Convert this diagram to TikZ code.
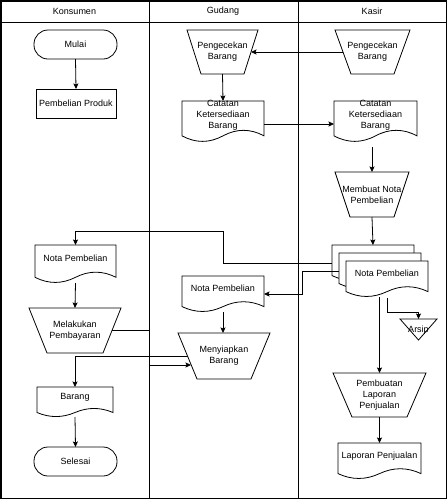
\documentclass[tikz,border=0pt]{standalone}
\usepackage{fontspec}
\setmainfont{Liberation Sans}
\usetikzlibrary{arrows.meta,calc}

\tikzset{
 line/.style={draw=black, line width=0.8pt},
 arr/.style={line, -{Stealth[length=5.5pt,width=5pt,inset=1pt]}},
 frame/.style={inner sep=0pt, outer sep=0pt, draw=none},
 txt/.style={font=\fontsize{9}{11}\selectfont, align=center, inner sep=0pt},
 lane/.style={draw=black, line width=0.8pt},
}

% name, x, y, w, h, indent, text
\newcommand\trapz[7]{%
 \node[frame, minimum width=#4pt, minimum height=#5pt, anchor=north west] (#1) at (#2,#3) {};
 \draw[line, fill=white] (#1.north west) -- (#1.north east) -- ([xshift=-#6pt]#1.south east) -- ([xshift=#6pt]#1.south west) -- cycle;
 \node[txt] (#1-t) at (#1.center) {#7};
}
% name, x, y, w, h, text, text y
\newcommand\docz[7]{%
 \node[frame, minimum width=#4pt, minimum height=#5pt, anchor=north west] (#1) at (#2,#3) {};
 \draw[line, fill=white] (#2,#3) -- ({#2+#4},#3) -- ({#2+#4},{#3+0.85*#5})
   .. controls ({#2+0.8333*#4},{#3+0.67*#5}) and ({#2+0.6667*#4},{#3+0.67*#5}) .. ({#2+0.5*#4},{#3+0.85*#5})
   .. controls ({#2+0.3333*#4},{#3+1.03*#5}) and ({#2+0.1667*#4},{#3+1.03*#5}) .. (#2,{#3+0.85*#5}) -- cycle;
 \node[txt] (#1-t) at ({#2+#4/2},#7) {#6};
}
% name, x, y, w, h, text
\newcommand\stad[6]{%
 \node[frame, minimum width=#4pt, minimum height=#5pt, anchor=north west] (#1) at (#2,#3) {};
 \draw[line, rounded corners=14pt] (#1.north west) rectangle (#1.south east);
 \node[txt] (#1-t) at (#1.center) {#6};
}
% name, x, y, w, h, text
\newcommand\boxz[6]{%
 \node[frame, minimum width=#4pt, minimum height=#5pt, anchor=north west] (#1) at (#2,#3) {};
 \draw[line] (#1.north west) rectangle (#1.south east);
 \node[txt] (#1-t) at (#1.center) {#6};
}

\begin{document}
\begin{tikzpicture}[x=1pt,y=-1pt]
\useasboundingbox (0,0) rectangle (447,499);
\draw[line width=1.5pt] (0.75,0.75) rectangle (446.25,498.25);
\draw[lane] (0.75,22) -- (446.25,22);
\draw[lane] (149,0.75) -- (149,498.25);
\draw[lane] (298,0.75) -- (298,498.25);
\node[txt] (hK) at (74.5,11) {Konsumen};
\node[txt] (hG) at (223,11) {Gudang};
\node[txt] (hS) at (372,11) {Kasir};

% Konsumen
\stad{mulai}{34}{30}{83}{29}{Mulai}
\boxz{produk}{36}{89}{80}{29}{Pembelian Produk}
\docz{notaK}{35}{245}{81}{38}{Nota Pembelian}{258}
\trapz{bayar}{29}{308}{92}{45}{18}{Melakukan\\Pembayaran}
\docz{barang}{37}{387}{76}{30}{Barang}{397}
\stad{selesai}{34}{447}{83}{29}{Selesai}

% Gudang
\trapz{cekG}{187}{30}{71}{44}{14}{Pengecekan\\Barang}
\docz{catG}{182}{101}{82}{41}{Catatan\\Ketersediaan\\Barang}{115}
\docz{notaG}{182}{276}{82}{36}{Nota Pembelian}{288}
\trapz{siap}{178}{333}{92}{46}{19}{Menyiapkan\\Barang}

% Kasir
\trapz{cekK}{335}{30}{75}{44}{16}{Pengecekan\\Barang}
\docz{catK}{334}{101}{83}{41}{Catatan\\Ketersediaan\\Barang}{115}
\trapz{buat}{335}{172}{74}{45}{15}{Membuat Nota\\Pembelian}
\docz{m1}{332}{245}{82}{36}{}{258}
\docz{m2}{339}{253}{82}{36}{}{266}
\docz{m3}{346}{261}{82}{36}{Nota Pembelian}{273}
\node[frame, minimum width=37pt, minimum height=21pt, anchor=north west] (arsip) at (400,319) {};
\draw[line] (arsip.north west) -- (arsip.north east) -- (arsip.south) -- cycle;
\node[txt] (arsip-t) at (418.5,330) {Arsip};
\trapz{lap}{333}{373}{93}{44}{19}{Pembuatan\\Laporan\\Penjualan}
\docz{laporan}{338}{443}{83}{36}{Laporan Penjualan}{456}

% connectors
\draw[arr] (mulai.south) -- (produk.north);
\draw[arr] ([xshift=8pt]cekK.west) -- ([xshift=-7pt]cekG.east);
\draw[arr] (cekG.south) -- (catG.north);
\draw[arr] ([yshift=-2.5pt]catG.east) -- ([yshift=-2.5pt]catK.west);
\draw[arr] ([yshift=-5pt]buat.north |- catK.south) -- (buat.north);
\draw[arr] (buat.south) -- (m1.north);
\coordinate (j1) at (223,231);
\draw[arr] (m1.west) -| (j1) -| (notaK.north);
\draw[arr] (m2.west) -- ++(-37,0) |- (notaG.east);
\draw[arr] (notaG.south) -- (notaG.south |- siap.north);
\draw[arr] (notaK.south) -- (bayar.north);
\coordinate (j2) at (149,365);
\draw[arr] ([xshift=-9pt]bayar.east) -| (j2) -- ([xshift=13pt,yshift=-9pt]siap.west);
\draw[arr] ([xshift=9.5pt]siap.west) -| (barang.north);
\draw[arr] (barang.south) -- (selesai.north);
\draw[arr] (lap.north |- m3.south) -- (lap.north);
\draw[arr] ([yshift=-1pt]m3.south) -- ++(0,14) -| (arsip.north);
\draw[arr] (lap.south) -- (laporan.north);
\end{tikzpicture}
\end{document}
